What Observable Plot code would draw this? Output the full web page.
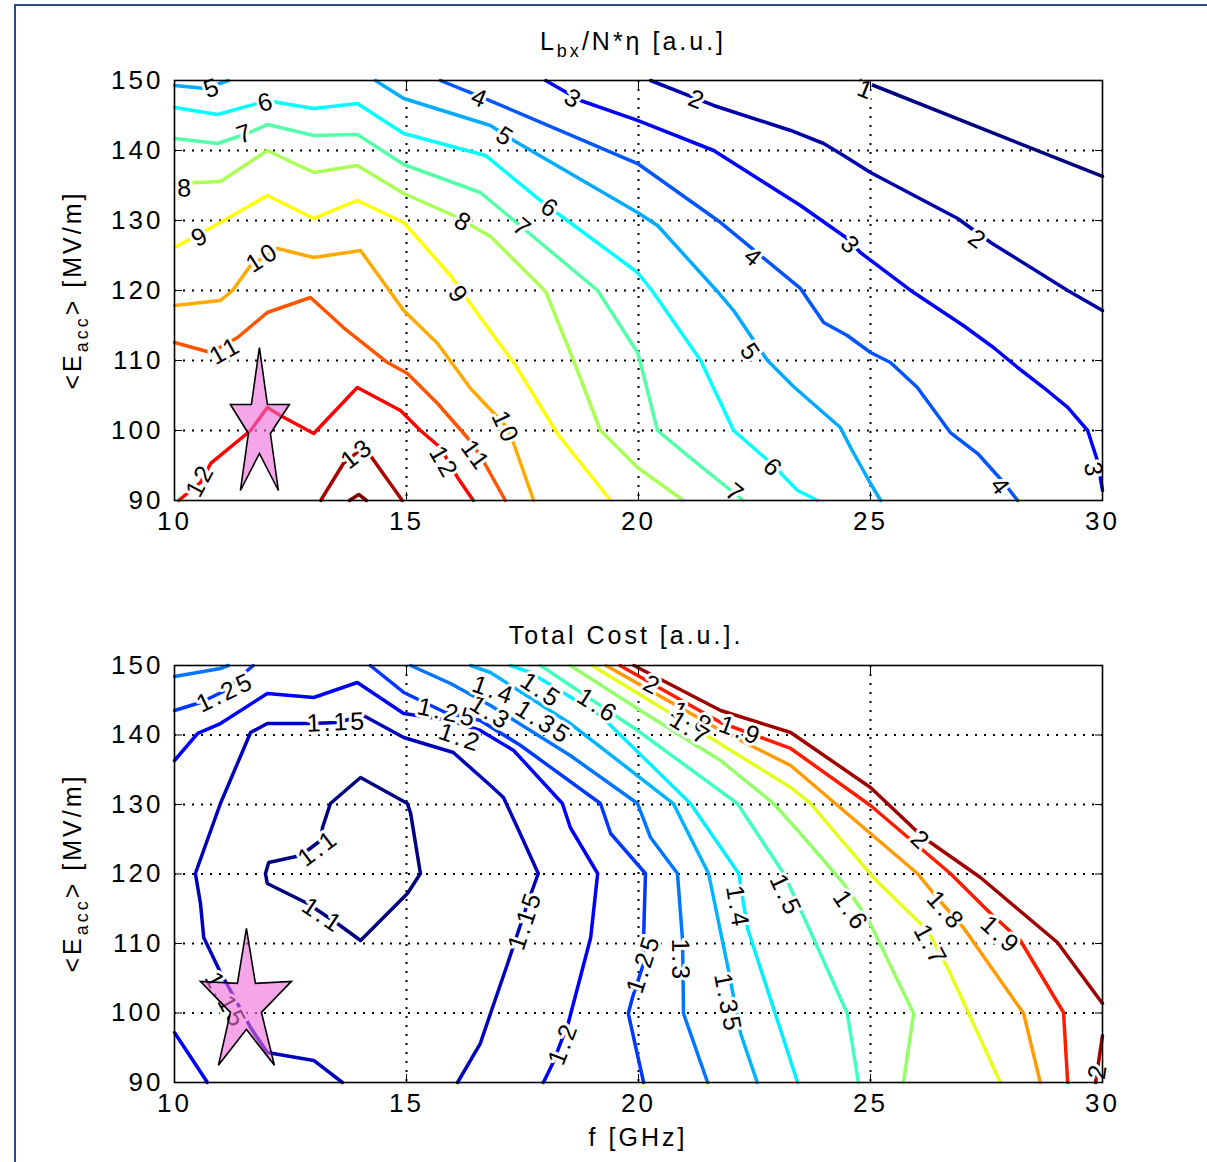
<!DOCTYPE html>
<html>
<head>
<meta charset="utf-8">
<script src="https://cdn.jsdelivr.net/npm/d3@7"></script>
<script src="https://cdn.jsdelivr.net/npm/@observablehq/plot@0.6"></script>
<style>
  body { margin: 0; background: #fff; }
  #page { position: relative; width: 1207px; height: 1162px; overflow: hidden; background: #fff;
          font-family: "Liberation Sans", Arial, sans-serif; }
  #page .border { position: absolute; left: 14px; top: 4px; right: -10px; bottom: -10px; z-index: 5;
                  border-top: 2px solid #2b4a8e; border-left: 2px solid #2b4a8e; pointer-events: none; }
  #page svg { position: absolute; left: 0; }
  #page svg text { letter-spacing: 3px; }
</style>
</head>
<body>
<div id="page"><div class="border"></div></div>
<script>
// ---- axes ----
const xTicks = [10, 15, 20, 25, 30];
const yTicks = [90, 100, 110, 120, 130, 140, 150];
const xGrid = [15, 20, 25];
const yGrid = [100, 110, 120, 130, 140];

// ---- L_bx/N*eta contours: [f (GHz), <Eacc> (MV/m)] per level, split into pieces ----
const lbx1 = [[[24.8, 150], [30, 136.3]]];
const lbx2 = [[[20.26, 150], [21.62, 146.43], [23.28, 142.86], [23.99, 141.0], [24.42, 139.29], [25.0, 136.86], [26.88, 130.29], [27.59, 126.86], [29.25, 120.0], [30, 117.14]]];
const lbx3 = [[[18.0, 150], [18.75, 147.14], [19.98, 144.29], [21.62, 140.0], [23.49, 132.14], [24.5, 127.43], [24.78, 125.43], [25.93, 119.71], [27.0, 115.0], [27.65, 111.86], [28.17, 109.0], [28.73, 106.14], [29.25, 103.29], [29.68, 100.0], [29.89, 95.71], [30, 91.43]]];
const lbx4 = [[[15.73, 150], [16.59, 147.71], [19.98, 138.14], [21.77, 129.71], [23.49, 120.29], [23.99, 115.43], [24.5, 113.57], [25.0, 111.14], [25.43, 109.71], [26.01, 106.14], [26.72, 99.71], [27.31, 96.71], [27.87, 92.57], [28.17, 90.0]]];
const lbx5 = [
  [[10, 149.29], [10.67, 148.86], [11.16, 150]],
  [[14.33, 150], [14.94, 147.43], [16.81, 143.57], [17.31, 141.43], [19.98, 131.14], [20.41, 129.29], [21.70, 119.86], [22.05, 117.14], [22.78, 110.0], [23.34, 106.29], [24.35, 100.43], [24.57, 97.57], [25.0, 92.43], [25.22, 90.0]]
];
const lbx6 = [[[10, 146.14], [10.93, 145.14], [12.0, 147.14], [12.22, 146.86], [13.0, 146.0], [13.94, 146.71], [14.94, 142.43], [16.7, 139.29], [18.1, 131.71], [18.32, 130.71], [19.98, 122.57], [20.32, 119.71], [21.34, 110.0], [22.05, 100.0], [22.84, 95.43], [23.43, 91.43], [23.86, 90.0]]];
const lbx7 = [[[10, 141.71], [10.93, 141.0], [11.57, 142.43], [12.0, 143.71], [13.0, 142.14], [13.94, 142.29], [14.94, 138.0], [16.59, 134.0], [17.52, 128.86], [19.12, 120.0], [19.98, 111.14], [20.04, 109.71], [20.41, 100.0], [21.19, 95.71], [22.26, 90.0]]];
const lbx8 = [[[10, 135.29], [10.99, 135.57], [12.0, 140.0], [13.0, 136.86], [13.94, 137.86], [14.94, 133.86], [16.06, 130.57], [16.81, 127.71], [18.0, 119.86], [18.6, 110.0], [19.18, 100.0], [19.98, 94.71], [20.97, 90.0]]];
const lbx9 = [[[10, 126.14], [10.99, 129.71], [12.0, 133.57], [13.0, 130.29], [13.94, 132.86], [14.94, 129.71], [15.95, 122.14], [16.59, 116.14], [17.31, 109.71], [18.25, 99.57], [19.4, 90.0]]];
const lbx10 = [[[10, 117.86], [10.99, 118.57], [11.25, 120.0], [11.64, 123.57], [12.22, 126.0], [13.0, 124.71], [14.01, 125.71], [14.66, 119.71], [14.94, 117.14], [15.67, 112.43], [16.38, 106.0], [17.13, 100.71], [17.31, 98.14], [17.74, 90.0]]];
const lbx11 = [[[10, 112.57], [10.78, 111.14], [11.36, 113.29], [12.0, 116.86], [12.93, 119.0], [13.64, 114.71], [14.59, 109.71], [15.02, 108.14], [15.67, 103.86], [16.31, 99.0], [16.59, 96.43], [17.13, 90.0]]];
const lbx12 = [[[10.09, 90.0], [10.56, 92.57], [10.78, 95.29], [11.64, 100.0], [12.0, 103.29], [12.28, 102.14], [13.0, 99.57], [13.94, 106.14], [14.87, 102.86], [15.3, 100.0], [15.73, 97.57], [16.1, 93.29], [16.44, 90.0]]];
const lbx13 = [[[13.15, 90], [13.64, 95.29], [13.94, 96.86], [14.22, 96.43], [14.91, 90.0]]];
const lbx14 = [[[13.77, 90], [13.97, 90.86], [14.14, 90]]];

// inline labels: [level, f, Eacc]
const lbxLabels = [
  [1, 24.91, 148.6],
  [2, 21.27, 147.2], [2, 27.31, 127.2],
  [3, 18.6, 147.3], [3, 24.57, 126.4], [3, 29.8, 94.3],
  [4, 16.59, 147.4], [4, 22.48, 124.6], [4, 27.8, 91.9],
  [5, 10.82, 148.9], [5, 17.13, 141.9], [5, 22.41, 111.1],
  [6, 11.98, 146.9], [6, 18.1, 131.7], [6, 22.9, 94.6],
  [7, 11.53, 142.4], [7, 17.5, 128.9], [7, 22.09, 91.0],
  [8, 10.24, 134.6], [8, 16.23, 129.7],
  [9, 10.56, 127.7], [9, 16.12, 119.3],
  [10, 11.9, 124.7], [10, 17.13, 100.4],
  [11, 11.1, 111.4], [11, 16.49, 96.4],
  [12, 10.56, 92.9], [12, 15.8, 95.4],
  [13, 13.94, 96.7]
];

// ---- Total cost contours ----
const cost110 = [[[13.19, 126.69], [13.36, 130.14], [14.01, 133.88], [15.02, 130.14], [15.09, 128.71], [15.30, 120.07], [15.02, 117.19], [14.01, 110.43], [13.51, 112.88], [12.87, 115.76], [12.0, 118.63], [11.96, 120.07], [12.03, 121.65], [12.72, 122.66], [13.15, 124.82], [13.19, 126.69]]];
const cost115 = [[[13.62, 90.0], [13.0, 93.17], [12.0, 94.32], [11.64, 97.91], [10.97, 106.12], [10.63, 110.86], [10.56, 115.76], [10.45, 120.07], [10.99, 130.14], [11.64, 140.36], [12.0, 141.65], [12.93, 141.65], [13.51, 141.8], [14.07, 142.81], [14.94, 139.64], [16.01, 137.48], [16.81, 132.73], [17.09, 131.01], [17.39, 126.69], [17.84, 120.07], [17.63, 116.19], [17.18, 107.12], [16.81, 99.93], [16.59, 95.61], [16.1, 90.0]]];
const cost120 = [
  [[10, 97.19], [10.71, 90.0]],
  [[10, 136.33], [10.5, 140.22], [10.99, 141.65], [12.0, 145.97], [13.0, 145.4], [13.94, 147.55], [14.94, 143.09], [15.95, 142.09], [16.59, 140.65], [17.31, 137.77], [18.36, 130.14], [18.53, 126.69], [19.12, 120.07], [18.97, 110.86], [18.49, 98.63], [18.15, 92.73], [17.95, 90.0]]
];
const cost125 = [
  [[10, 143.53], [10.56, 144.68], [11.10, 146.40], [11.57, 149.28], [11.7, 150]],
  [[14.22, 150], [14.94, 146.12], [15.84, 143.24], [16.59, 142.09], [17.46, 138.49], [19.18, 130.14], [19.4, 125.83], [20.15, 120.07], [20.11, 110.86], [20.11, 107.12], [19.87, 102.23], [19.78, 99.93], [20.11, 90.0]]
];
const cost130 = [
  [[10, 148.42], [10.99, 149.57], [11.16, 150]],
  [[15.09, 150], [15.95, 147.41], [16.81, 144.24], [18.53, 137.05], [19.98, 130.14], [20.26, 125.25], [20.84, 120.07], [20.95, 110.43], [20.97, 99.93], [21.49, 90.0]]
];
const cost135 = [[[16.38, 150], [16.81, 148.99], [18.53, 141.65], [20.75, 130.14], [21.51, 120.07], [21.94, 106.12], [22.2, 97.05], [22.56, 90]]];
const cost140 = [[[17.24, 150], [17.67, 148.99], [19.18, 142.81], [21.12, 130.14], [22.16, 120.07], [22.35, 112.16], [23.43, 90]]];
const cost150 = [[[17.89, 150], [19.98, 140.65], [22.13, 130.14], [23.13, 120.07], [23.53, 114.32], [24.5, 99.93], [24.74, 90]]];
const cost160 = [[[18.53, 150], [20.04, 143.53], [21.77, 136.33], [22.91, 130.14], [23.49, 125.83], [24.42, 118.63], [24.96, 113.31], [25.93, 99.93], [25.71, 90]]];
const cost170 = [[[19.0, 150], [21.12, 141.37], [23.28, 132.45], [23.71, 130.14], [25.06, 119.5], [26.23, 111.87], [26.66, 106.55], [27.8, 90]]];
const cost180 = [[[19.3, 150], [21.77, 140.65], [23.28, 135.61], [25.0, 125.83], [26.01, 120.07], [26.44, 116.55], [27.0, 112.3], [28.3, 99.93], [28.66, 90]]];
const cost190 = [[[19.6, 150], [21.77, 141.8], [23.28, 138.06], [25.0, 129.86], [26.72, 120.07], [27.59, 114.32], [28.23, 110.43], [29.16, 100.07], [29.25, 90]]];
const cost200 = [
  [[19.9, 150], [21.77, 143.53], [23.28, 140.36], [25.0, 132.45], [26.14, 125.25], [27.37, 119.5], [29.03, 110.14], [30, 101.37]],
  [[30, 96.76], [29.85, 90]]
];

const costLabels = [
  [1.25, 11.10, 146.1], [1.15, 13.5, 141.8], [1.1, 13.1, 123.7], [1.1, 13.19, 114.0],
  [1.15, 11.1, 101.8], [1.2, 16.16, 139.6], [1.25, 15.88, 143.2], [1.3, 16.81, 143.2],
  [1.4, 16.88, 146.4], [1.5, 17.9, 146.4], [1.35, 17.95, 141.8], [1.6, 19.12, 144.2],
  [2, 20.3, 147.1], [1.8, 21.16, 142.4], [1.7, 21.12, 140.9], [1.9, 22.2, 140.6],
  [1.15, 17.56, 113.3], [1.2, 18.38, 95.6], [1.25, 20.11, 107.1], [1.3, 20.9, 107.6],
  [1.35, 21.92, 101.4], [1.4, 22.13, 115.2], [1.5, 23.17, 116.9], [1.6, 24.57, 114.7],
  [1.7, 26.29, 109.7], [1.8, 26.62, 114.7], [1.9, 27.8, 111.2], [2, 26.08, 124.8], [2, 29.9, 91.7]
];

// operating points marked with a star
const lbxStar = [{f: 11.83, E: 100}];
const costStar = [{f: 11.55, E: 101.1}];

// ---- helpers ----
function jet(t) {
  t = Math.max(0, Math.min(1, t));
  const c = v => Math.round(255 * Math.max(0, Math.min(1, v)));
  return d3.rgb(c(1.5 - Math.abs(4 * t - 3)), c(1.5 - Math.abs(4 * t - 2)), c(1.5 - Math.abs(4 * t - 1))).formatHex();
}

function starSymbol(vertices) {
  return {
    draw(context) {
      context.moveTo(vertices[0][0], vertices[0][1]);
      for (const [x, y] of vertices.slice(1)) context.lineTo(x, y);
      context.closePath();
    }
  };
}

function contourChart({series, labels, colorT, star, starShape, top, height, marginTop, marginBottom}) {
  const width = 1207, marginLeft = 174, marginRight = 105;
  const kx = (width - marginLeft - marginRight) / 20;
  const ky = (height - marginTop - marginBottom) / 60;

  const rows = [];
  for (const {level, pieces} of series) {
    const color = jet(colorT(level));
    pieces.forEach((piece, i) => piece.forEach(([f, E]) => rows.push({f, E, key: `${level}/${i}`, color})));
  }

  // each label follows the direction of the nearest segment of its contour
  const labelRows = labels.map(([level, f, E]) => {
    const {pieces} = series.find(d => d.level === level);
    let best = Infinity, angle = 0;
    const px = f * kx, py = -E * ky;
    for (const piece of pieces) {
      for (let i = 1; i < piece.length; ++i) {
        const ax = piece[i - 1][0] * kx, ay = -piece[i - 1][1] * ky;
        const bx = piece[i][0] * kx, by = -piece[i][1] * ky;
        const dx = bx - ax, dy = by - ay, L2 = dx * dx + dy * dy;
        const u = L2 ? Math.max(0, Math.min(1, ((px - ax) * dx + (py - ay) * dy) / L2)) : 0;
        const d = Math.hypot(ax + u * dx - px, ay + u * dy - py);
        if (d < best) { best = d; angle = Math.atan2(dy, dx) * 180 / Math.PI; }
      }
    }
    if (angle > 90) angle -= 180;
    if (angle < -90) angle += 180;
    return {f, E, text: String(level), angle};
  });

  const svg = Plot.plot({
    width, height, marginLeft, marginRight, marginTop, marginBottom,
    x: {domain: [10, 30], label: null},
    y: {domain: [90, 150], label: null},
    color: {type: "identity"},
    style: {fontFamily: "Liberation Sans, Arial, sans-serif", fontSize: "26px", color: "black", background: "white", overflow: "visible"},
    marks: [
      Plot.gridX(xGrid, {stroke: "black", strokeOpacity: 1, strokeWidth: 2, strokeDasharray: "2,7"}),
      Plot.gridY(yGrid, {stroke: "black", strokeOpacity: 1, strokeWidth: 2, strokeDasharray: "2,7"}),
      Plot.line(rows, {x: "f", y: "E", z: "key", stroke: "color", strokeWidth: 3.5, strokeLinejoin: "round"}),
      Plot.text(labelRows, {x: "f", y: "E", text: "text", rotate: "angle", fontSize: 25, fill: "black",
                            stroke: "white", strokeWidth: 6}),
      Plot.dot(star, {x: "f", y: "E", r: 1, symbol: starSymbol(starShape), fill: "#ee6bd9", fillOpacity: 0.6,
                      stroke: "black", strokeWidth: 1.6}),
      Plot.frame({stroke: "black", strokeWidth: 1.6}),
      Plot.axisX(xTicks, {anchor: "bottom", tickSize: 0, tickPadding: 11, fontSize: 26, label: null}),
      Plot.axisX(xTicks, {anchor: "bottom", tickSize: -8, tickFormat: () => "", label: null}),
      Plot.axisX(xTicks, {anchor: "top", tickSize: -8, tickFormat: () => "", label: null}),
      Plot.axisY(yTicks, {anchor: "left", tickSize: 0, tickPadding: 11, fontSize: 26, label: null}),
      Plot.axisY(yTicks, {anchor: "left", tickSize: -8, tickFormat: () => "", label: null}),
      Plot.axisY(yTicks, {anchor: "right", tickSize: -8, tickFormat: () => "", label: null})
    ]
  });
  svg.style.top = `${top}px`;
  document.getElementById("page").appendChild(svg);
  return svg;
}

// text with optional subscript parts: [[text, isSub], ...]
function addText(svg, {x, y, rotate = 0, parts, size = 25}) {
  const t = d3.select(svg).append("text")
    .attr("transform", `translate(${x},${y}) rotate(${rotate})`)
    .attr("text-anchor", "middle")
    .attr("font-family", "Liberation Sans, Arial, sans-serif")
    .attr("font-size", size)
    .attr("fill", "black");
  let shifted = false;
  for (const [s, sub] of parts) {
    const span = t.append("tspan").text(s);
    if (sub && !shifted) { span.attr("dy", 7).attr("font-size", size * 0.72); shifted = true; }
    else if (!sub && shifted) { span.attr("dy", -7); shifted = false; }
  }
}

const eaccLabel = [["<E", false], ["acc", true], ["> [MV/m]", false]];

// ---- top: luminosity figure of merit ----
const topSvg = contourChart({
  series: [lbx1, lbx2, lbx3, lbx4, lbx5, lbx6, lbx7, lbx8, lbx9, lbx10, lbx11, lbx12, lbx13, lbx14]
    .map((pieces, i) => ({level: i + 1, pieces})),
  labels: lbxLabels,
  colorT: level => (level - 1.5) / 12,
  star: lbxStar,
  starShape: [[0, -83], [8, -26], [30, -26], [11, 3], [19, 60], [0, 23], [-19, 60], [-11, 3], [-29, -26], [-8, -26]],
  top: 0, height: 560, marginTop: 80, marginBottom: 60
});
addText(topSvg, {x: 633, y: 50, parts: [["L", false], ["bx", true], ["/N*η [a.u.]", false]]});
addText(topSvg, {x: 81, y: 290, rotate: -90, parts: eaccLabel});

// ---- bottom: total cost ----
const costLevels = [1.1, 1.15, 1.2, 1.25, 1.3, 1.35, 1.4, 1.5, 1.6, 1.7, 1.8, 1.9, 2];
const costT = d3.scaleLinear().domain([1.1, 1.4, 1.7, 2.0]).range([0.0, 0.36, 0.6, 0.97]);
const bottomSvg = contourChart({
  series: [cost110, cost115, cost120, cost125, cost130, cost135, cost140, cost150, cost160, cost170, cost180, cost190, cost200]
    .map((pieces, i) => ({level: costLevels[i], pieces})),
  labels: costLabels,
  colorT: costT,
  star: costStar,
  starShape: [[0, -77], [9, -22], [45, -24], [15, 7], [28, 60], [0, 24], [-28, 60], [-16, 7], [-46, -24], [-9, -22]],
  top: 560, height: 602, marginTop: 105, marginBottom: 80
});
addText(bottomSvg, {x: 626, y: 84, parts: [["Total Cost [a.u.].", false]]});
addText(bottomSvg, {x: 638, y: 586, parts: [["f [GHz]", false]]});
addText(bottomSvg, {x: 81, y: 313, rotate: -90, parts: eaccLabel});
</script>
</body>
</html>
